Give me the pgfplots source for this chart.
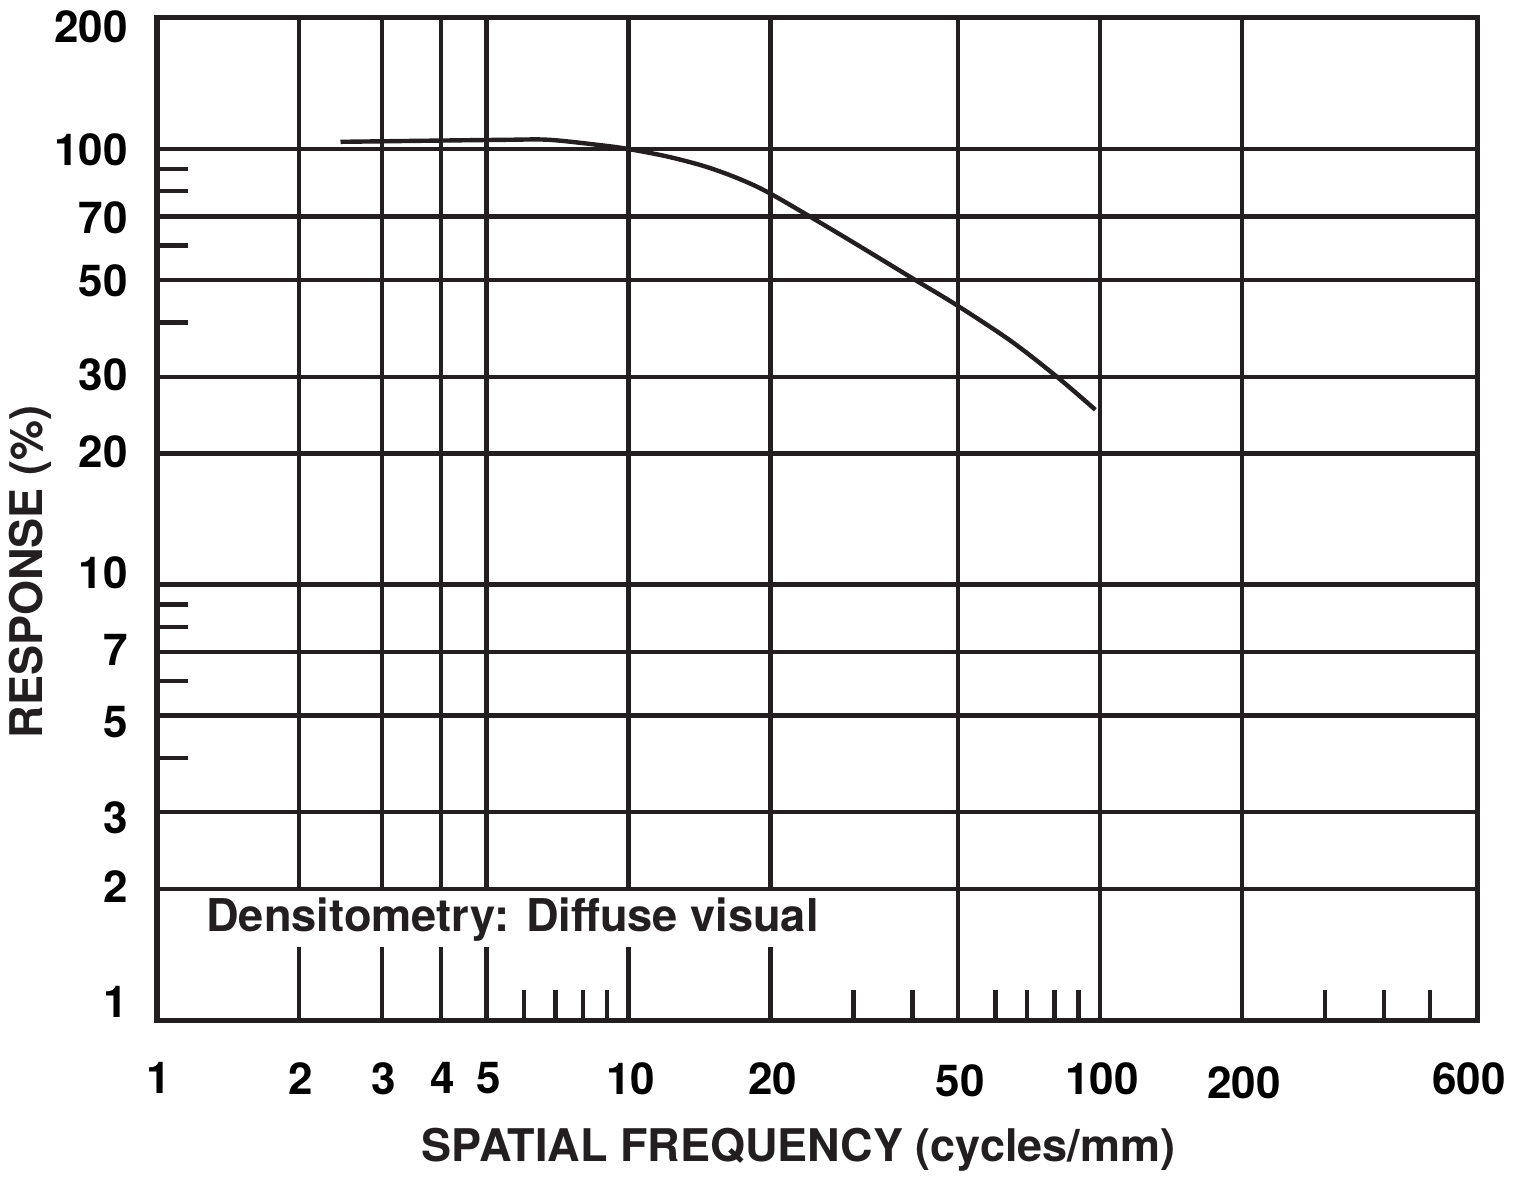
\documentclass[border=0pt]{standalone}
\usepackage{fontspec}
\setmainfont{TeX Gyre Heros}
\usepackage{pgfplots}
\pgfplotsset{compat=1.18}
\definecolor{ink}{HTML}{231F20}
\newcommand\yl[2]{\raisebox{#1}[\height][\depth]{#2}}
\begin{document}
\begin{tikzpicture}
\begin{axis}[
  scale only axis, width=660pt, height=501pt,
  xmode=log, ymode=log,
  xmin=1, xmax=630, ymin=1, ymax=200,
  axis line style={line width=2.5pt, color=ink},
  tick style={draw=none}, minor tick num=0,
  xtick={1,2,3,4,5,10,20,50,100,200,600},
  xticklabels={1,2,3,4,5,10,20,\yl{-1pt}{50},100,\yl{-2pt}{200},600},
  ytick={1,2,3,5,7,10,20,30,50,70,100,200},
  yticklabels={\yl{9pt}{1},\yl{1pt}{2},\yl{-3pt}{3},\yl{-3pt}{5},\yl{1pt}{7},\yl{6pt}{10},\yl{1pt}{20},\yl{1pt}{30},\yl{-0.5pt}{50},\yl{-0.5pt}{70},\yl{-0.5pt}{100},\yl{-4.5pt}{200}},
  xticklabel style={anchor=north, inner sep=0pt, yshift=-21pt, xshift=1pt, text=black, font=\fontsize{22}{26}\selectfont\bfseries},
  yticklabel style={anchor=east, inner sep=0pt, xshift=-14.5pt, text=black, font=\fontsize{22}{26}\selectfont\bfseries},
  xlabel={SPATIAL FREQUENCY (cycles/mm)},
  xlabel style={at={(axis description cs:0.486,0)}, anchor=center, yshift=-65pt, font=\fontsize{22.5}{26}\selectfont\bfseries, text=ink},
  ylabel={RESPONSE (\%)},
  ylabel style={at={(axis description cs:0,0.447)}, anchor=center, yshift=63.5pt, font=\fontsize{22.5}{26}\selectfont\bfseries, text=ink},
  clip=false,
]
% horizontal grid lines
\pgfplotsinvokeforeach{2,3,5,7,10,20,30,50,70,100}{
  \draw[ink, line width=2.2pt] (axis cs:1,#1) -- (axis cs:630,#1);
}
% full-height vertical grid lines
\pgfplotsinvokeforeach{50,100,200}{
  \draw[ink, line width=2.2pt] (axis cs:#1,1) -- (axis cs:#1,200);
}
% vertical grid lines broken around the caption
\pgfplotsinvokeforeach{2,3,4,5,10,20}{
  \draw[ink, line width=2.2pt] (axis cs:#1,2) -- (axis cs:#1,200);
  \draw[ink, line width=2.2pt] (axis cs:#1,1) -- (axis cs:#1,1.47);
}
% short ticks on the bottom
\pgfplotsinvokeforeach{6,7,8,9,30,40,60,70,80,90,300,400,500}{
  \draw[ink, line width=2.2pt] (axis cs:#1,1) -- (axis cs:#1,1.17);
}
% short ticks on the left
\pgfplotsinvokeforeach{4,6,8,9,40,60,80,90}{
  \draw[ink, line width=2.2pt] (axis cs:1,#1) -- (axis cs:1.163,#1);
}
\addplot[ink, line width=2.2pt, smooth] coordinates {
  (2.45,103.9) (5.4,105.0) (6.8,105.0) (8.9,101.8) (10,100.0)
  (12,96.3) (14.4,91.5) (17,85.8) (20,79) (28,63.8) (40.6,50)
  (50,43.6) (64.8,36.2) (81,30) (97.7,25.2)
};
\node[anchor=base west, inner sep=0pt, font=\fontsize{22.6}{26}\selectfont\bfseries, text=ink] at (axis cs:1.27,1.598) {Densitometry: Diffuse visual};
\end{axis}
\path ([xshift=-78.5pt,yshift=-77.5pt]current axis.south west) rectangle ([xshift=22.5pt,yshift=9pt]current axis.north east);
\end{tikzpicture}
\end{document}
